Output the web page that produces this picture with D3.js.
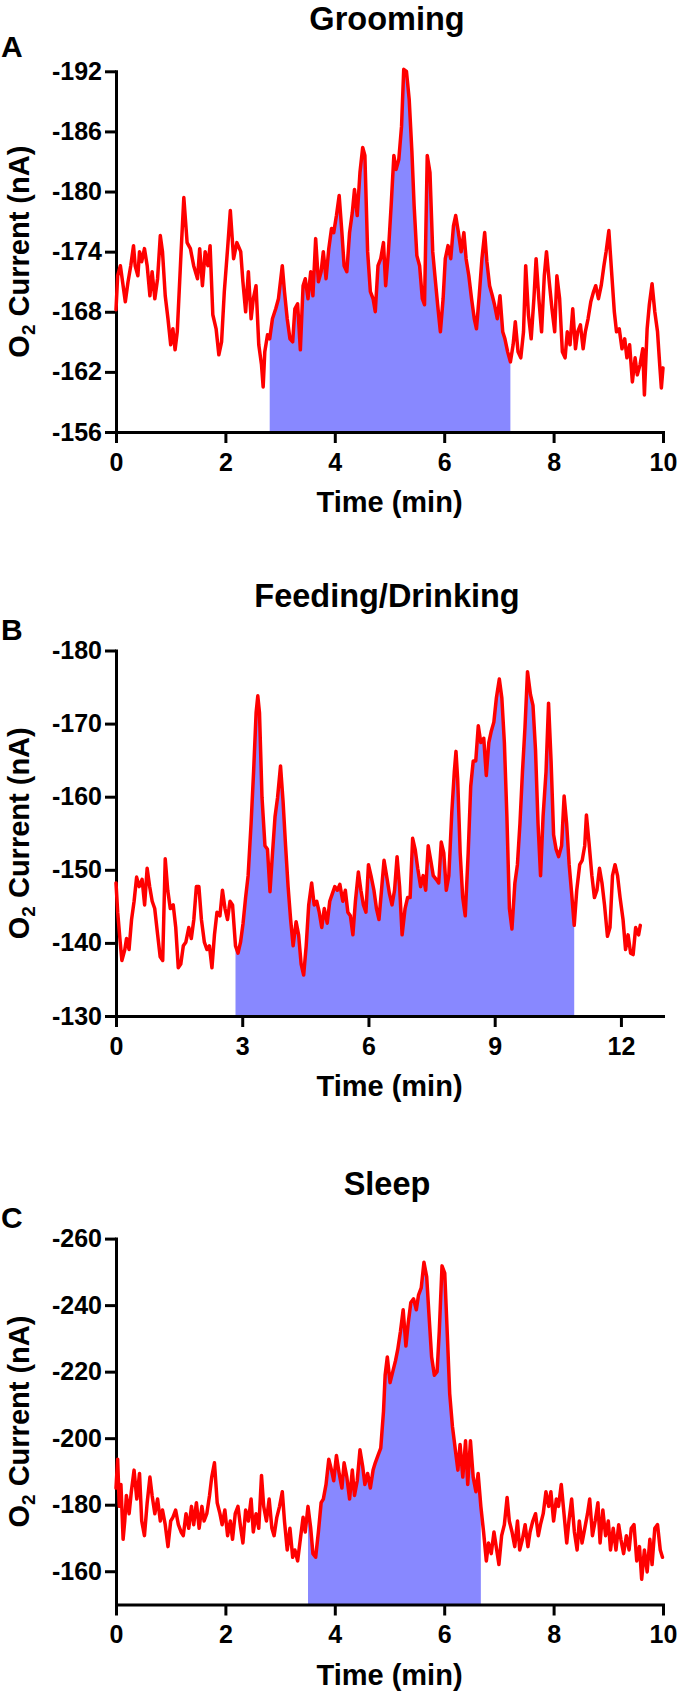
<!DOCTYPE html>
<html>
<head>
<meta charset="utf-8">
<script src="https://cdn.jsdelivr.net/npm/d3@7"></script>
<style>
  body { margin: 0; background: #ffffff; }
  svg { display: block; }
  text { font-family: "Liberation Sans", Arial, Helvetica, sans-serif; font-weight: bold; fill: #000; }
</style>
</head>
<body>
<svg id="chart" width="678" height="1692"></svg>
<script>
// ---------------- DATA ----------------
const titles = ["Grooming", "Feeding/Drinking", "Sleep"];
const letters = ["A", "B", "C"];
const xLabel = "Time (min)";

// Panel A: Grooming
const xTicksA = [0, 2, 4, 6, 8, 10];
const yTicksA = [-192, -186, -180, -174, -168, -162, -156];
const fillA = [2.8, 7.21];
const timeA = [0,0.03,0.08,0.13,0.17,0.22,0.27,0.32,0.35,0.40,0.43,0.47,0.52,0.57,0.62,0.66,0.71,0.76,0.81,0.85,0.90,0.95,1.00,1.04,1.08,1.12,1.19,1.24,1.30,1.36,1.42,1.49,1.53,1.58,1.63,1.68,1.72,1.77,1.83,1.88,1.93,1.98,2.04,2.09,2.15,2.21,2.28,2.32,2.37,2.42,2.47,2.51,2.56,2.61,2.66,2.69,2.72,2.77,2.81,2.86,2.92,2.97,3.04,3.08,3.13,3.18,3.23,3.27,3.32,3.37,3.42,3.46,3.51,3.56,3.60,3.65,3.70,3.75,3.79,3.84,3.89,3.94,3.98,4.03,4.08,4.13,4.17,4.22,4.27,4.32,4.36,4.41,4.46,4.51,4.55,4.60,4.65,4.70,4.74,4.79,4.84,4.89,4.93,4.98,5.03,5.08,5.12,5.17,5.22,5.26,5.31,5.36,5.41,5.45,5.50,5.55,5.60,5.64,5.69,5.74,5.79,5.83,5.88,5.93,5.98,6.02,6.07,6.12,6.17,6.21,6.26,6.31,6.36,6.40,6.45,6.50,6.55,6.59,6.64,6.69,6.74,6.78,6.83,6.88,6.92,6.97,7.02,7.07,7.11,7.16,7.21,7.26,7.30,7.35,7.40,7.45,7.49,7.54,7.59,7.64,7.68,7.73,7.78,7.83,7.87,7.92,7.97,8.02,8.06,8.11,8.16,8.21,8.25,8.30,8.35,8.40,8.44,8.49,8.54,8.58,8.63,8.68,8.73,8.77,8.82,8.87,8.92,8.96,9.01,9.06,9.11,9.15,9.20,9.25,9.30,9.34,9.39,9.44,9.49,9.53,9.58,9.63,9.66,9.71,9.75,9.80,9.85,9.90,9.94,9.97,10.0];
const valueA = [-168.2,-171.6,-172.6,-170.6,-169.0,-171.0,-172.6,-174.6,-172.6,-171.6,-174.0,-173.0,-174.3,-172.6,-169.6,-172.0,-169.3,-171.3,-175.6,-174.0,-169.6,-167.3,-164.7,-166.3,-164.2,-166.0,-174.0,-179.4,-174.9,-174.3,-172.6,-171.3,-174.3,-170.6,-174.0,-172.6,-174.6,-167.7,-166.3,-163.7,-165.0,-170.0,-174.3,-178.1,-173.3,-174.9,-174.0,-171.0,-168.0,-172.0,-167.3,-169.3,-170.6,-164.7,-162.7,-160.5,-164.0,-165.7,-165.3,-167.3,-168.3,-169.3,-172.6,-170.0,-167.3,-165.3,-165.0,-168.3,-168.8,-164.2,-170.6,-171.3,-169.3,-172.0,-169.6,-175.3,-171.0,-172.0,-174.0,-171.3,-174.3,-176.3,-175.9,-177.6,-179.6,-175.9,-172.6,-172.0,-175.9,-177.9,-180.2,-177.6,-181.9,-184.4,-183.6,-174.0,-170.0,-169.3,-168.0,-172.6,-173.3,-174.9,-170.6,-174.0,-178.6,-183.6,-182.2,-183.2,-186.5,-192.2,-192.0,-189.2,-183.9,-178.6,-173.6,-172.6,-169.3,-168.7,-183.6,-181.9,-174.0,-171.6,-168.7,-166.0,-169.3,-173.3,-174.6,-173.3,-176.6,-177.6,-175.9,-174.0,-175.9,-173.3,-171.6,-169.3,-167.3,-166.3,-169.6,-173.3,-175.9,-173.0,-170.6,-169.6,-168.7,-167.3,-169.6,-166.0,-165.3,-164.0,-163.0,-164.7,-167.0,-164.0,-163.4,-166.0,-172.6,-167.7,-165.3,-169.3,-173.3,-169.3,-166.0,-171.6,-174.0,-171.0,-168.3,-166.0,-171.6,-169.3,-164.0,-163.4,-166.0,-164.7,-168.3,-164.3,-166.0,-166.7,-164.3,-166.0,-167.3,-169.0,-170.0,-170.6,-169.3,-170.6,-172.6,-174.0,-176.1,-172.0,-168.0,-166.0,-166.3,-164.3,-165.3,-163.4,-164.7,-161.0,-163.4,-161.7,-162.7,-164.3,-159.7,-166.3,-168.7,-170.8,-168.0,-166.0,-162.7,-160.4,-162.4];

// Panel B: Feeding/Drinking
const xTicksB = [0, 3, 6, 9, 12];
const yTicksB = [-180, -170, -160, -150, -140, -130];
const fillB = [2.84, 10.89];
const timeB = [0,0.04,0.10,0.14,0.21,0.25,0.31,0.37,0.43,0.49,0.55,0.62,0.68,0.74,0.80,0.86,0.92,0.99,1.05,1.11,1.17,1.23,1.29,1.36,1.42,1.48,1.54,1.60,1.66,1.73,1.79,1.85,1.91,1.97,2.03,2.10,2.16,2.22,2.28,2.34,2.40,2.47,2.53,2.59,2.65,2.71,2.77,2.84,2.90,2.96,3.02,3.08,3.14,3.21,3.27,3.33,3.37,3.41,3.47,3.54,3.60,3.66,3.72,3.78,3.84,3.91,3.97,4.03,4.09,4.15,4.21,4.28,4.34,4.40,4.46,4.52,4.58,4.65,4.71,4.77,4.83,4.89,4.95,5.02,5.08,5.14,5.20,5.26,5.32,5.39,5.45,5.51,5.57,5.63,5.69,5.76,5.82,5.88,5.94,6.00,6.06,6.13,6.19,6.25,6.31,6.37,6.43,6.50,6.56,6.62,6.68,6.74,6.80,6.87,6.93,6.99,7.05,7.11,7.17,7.24,7.30,7.36,7.42,7.48,7.54,7.61,7.67,7.73,7.79,7.85,7.91,7.98,8.04,8.08,8.12,8.18,8.24,8.30,8.37,8.43,8.49,8.55,8.61,8.67,8.74,8.80,8.86,8.92,8.98,9.04,9.11,9.17,9.23,9.29,9.35,9.41,9.48,9.54,9.60,9.66,9.72,9.78,9.85,9.91,9.97,10.03,10.09,10.15,10.22,10.28,10.34,10.40,10.46,10.52,10.59,10.65,10.71,10.77,10.83,10.89,10.95,11.02,11.08,11.14,11.18,11.24,11.31,11.37,11.43,11.49,11.55,11.61,11.68,11.74,11.80,11.86,11.92,11.98,12.05,12.11,12.17,12.23,12.29,12.35,12.42,12.46];
const valueB = [-148.2,-144.2,-140.1,-137.6,-139.1,-140.6,-139.1,-143.2,-145.7,-149.0,-147.7,-148.7,-145.2,-150.2,-147.7,-145.7,-144.7,-141.1,-138.1,-137.6,-151.5,-147.2,-144.7,-145.2,-142.1,-136.6,-137.1,-139.6,-140.1,-142.1,-140.6,-143.2,-147.7,-147.7,-143.2,-140.1,-139.1,-139.6,-136.6,-141.1,-144.2,-143.7,-147.2,-144.7,-143.2,-145.7,-145.2,-139.6,-138.6,-140.1,-142.7,-146.2,-149.2,-156.3,-163.4,-171.5,-173.8,-171.5,-159.9,-153.3,-152.8,-147.0,-152.3,-157.3,-159.9,-164.2,-159.4,-153.3,-147.7,-143.2,-139.6,-142.9,-141.1,-137.1,-135.6,-139.6,-145.2,-148.2,-145.2,-145.7,-144.2,-142.1,-144.7,-142.7,-145.7,-146.7,-147.7,-147.2,-148.0,-145.7,-147.2,-144.2,-143.7,-141.1,-145.7,-149.7,-147.2,-145.2,-144.2,-150.7,-149.2,-147.2,-144.7,-143.2,-147.2,-151.3,-149.2,-146.7,-145.2,-147.2,-151.8,-147.7,-141.1,-144.7,-146.2,-146.2,-154.3,-152.8,-150.2,-147.7,-149.2,-147.2,-153.3,-151.3,-149.2,-148.7,-148.2,-153.8,-152.3,-147.2,-149.2,-157.8,-163.4,-166.2,-162.4,-152.3,-146.2,-143.7,-152.3,-161.4,-164.9,-164.9,-169.7,-167.4,-168.0,-162.9,-167.4,-169.0,-170.2,-173.5,-176.1,-173.5,-167.4,-157.3,-144.7,-141.9,-148.2,-150.7,-156.3,-163.4,-169.5,-177.1,-174.0,-172.5,-166.4,-156.3,-149.2,-157.3,-163.4,-172.8,-164.9,-154.8,-152.8,-151.8,-153.3,-160.1,-156.3,-150.7,-146.7,-142.4,-147.2,-150.7,-151.3,-153.3,-157.5,-153.8,-149.2,-146.2,-147.2,-150.2,-148.2,-145.2,-140.9,-142.1,-149.2,-150.7,-149.2,-146.2,-143.2,-139.1,-141.1,-138.6,-138.4,-142.1,-141.1,-142.4];

// Panel C: Sleep
const xTicksC = [0, 2, 4, 6, 8, 10];
const yTicksC = [-260, -240, -220, -200, -180, -160];
const fillC = [3.51, 6.67];
const timeC = [0,0.03,0.06,0.09,0.13,0.16,0.19,0.24,0.28,0.33,0.38,0.43,0.47,0.52,0.57,0.62,0.66,0.71,0.76,0.81,0.85,0.90,0.95,1.00,1.04,1.09,1.14,1.19,1.23,1.28,1.33,1.38,1.42,1.47,1.52,1.57,1.61,1.66,1.71,1.75,1.80,1.85,1.90,1.94,1.99,2.04,2.09,2.13,2.18,2.23,2.28,2.32,2.37,2.42,2.47,2.51,2.56,2.61,2.66,2.70,2.75,2.80,2.85,2.89,2.94,2.99,3.04,3.08,3.13,3.18,3.23,3.27,3.32,3.37,3.42,3.46,3.51,3.56,3.60,3.65,3.70,3.75,3.79,3.84,3.89,3.94,3.98,4.03,4.08,4.13,4.17,4.22,4.27,4.32,4.36,4.41,4.46,4.51,4.55,4.60,4.65,4.70,4.74,4.79,4.84,4.89,4.92,4.96,5.01,5.06,5.11,5.15,5.20,5.25,5.30,5.34,5.39,5.44,5.49,5.53,5.58,5.63,5.68,5.72,5.77,5.82,5.87,5.91,5.96,6.01,6.06,6.10,6.15,6.20,6.25,6.29,6.34,6.39,6.43,6.48,6.53,6.58,6.62,6.67,6.72,6.77,6.81,6.86,6.91,6.96,7.00,7.05,7.10,7.15,7.19,7.24,7.29,7.34,7.38,7.43,7.48,7.53,7.57,7.62,7.67,7.72,7.76,7.81,7.86,7.91,7.95,8.00,8.05,8.09,8.14,8.19,8.24,8.28,8.33,8.38,8.43,8.47,8.52,8.57,8.62,8.66,8.71,8.76,8.81,8.85,8.90,8.95,9.00,9.04,9.09,9.14,9.19,9.23,9.28,9.33,9.38,9.42,9.47,9.52,9.57,9.61,9.66,9.71,9.76,9.80,9.85,9.90,9.95,9.99];
const valueC = [-185.0,-193.7,-179.5,-186.1,-169.6,-175.1,-182.8,-177.3,-183.9,-190.4,-181.7,-189.4,-175.1,-170.7,-180.6,-188.3,-182.8,-177.3,-181.7,-175.1,-178.4,-174.0,-167.4,-175.1,-176.2,-178.4,-174.0,-171.8,-170.7,-177.3,-172.9,-179.5,-174.0,-180.6,-172.9,-179.5,-175.1,-177.3,-182.8,-188.3,-192.6,-180.6,-177.3,-174.0,-178.4,-170.7,-175.1,-169.6,-177.3,-179.5,-172.9,-168.5,-178.4,-175.1,-181.7,-171.8,-177.3,-172.9,-188.8,-179.5,-175.1,-181.7,-172.9,-170.7,-176.2,-179.5,-183.9,-175.1,-166.4,-172.9,-164.2,-166.4,-163.1,-169.6,-176.2,-171.8,-179.5,-172.9,-165.3,-164.2,-171.8,-180.6,-181.7,-186.1,-193.7,-190.4,-187.2,-194.8,-189.4,-185.0,-192.6,-188.3,-181.7,-190.4,-182.8,-187.2,-196.5,-191.5,-186.1,-189.4,-185.0,-190.4,-192.6,-194.8,-197.0,-208.0,-218.9,-224.4,-216.7,-220.0,-223.3,-226.6,-232.1,-238.6,-227.7,-234.3,-240.8,-241.9,-238.6,-243.0,-245.2,-252.9,-248.5,-237.5,-224.4,-218.9,-220.0,-232.1,-251.8,-249.6,-229.9,-213.5,-203.6,-197.0,-190.4,-198.1,-188.3,-199.2,-186.1,-199.2,-188.3,-183.9,-189.4,-179.5,-171.8,-163.1,-168.5,-165.3,-171.8,-166.4,-162.0,-170.7,-174.0,-182.2,-175.1,-171.8,-167.4,-175.1,-166.4,-169.6,-174.0,-167.4,-171.8,-175.1,-177.3,-170.7,-174.0,-177.3,-183.9,-179.5,-183.9,-175.1,-181.7,-179.5,-186.1,-177.3,-168.5,-175.1,-181.7,-171.8,-166.4,-175.1,-168.5,-172.9,-177.3,-181.7,-170.7,-175.1,-180.6,-168.5,-178.4,-170.7,-175.1,-166.4,-172.9,-166.4,-174.0,-169.6,-165.3,-170.7,-166.4,-172.9,-174.0,-163.1,-167.4,-157.6,-166.4,-159.8,-169.6,-162.0,-172.9,-174.0,-166.4,-164.2];

// ---------------- LAYOUT ----------------
const svg = d3.select("#chart");
const plotLeft = 116, plotRight = 663;
const lineColor = "#ff0000";
const fillColor = "#8888ff";

const panels = [
  { title: titles[0], letter: letters[0], time: timeA, value: valueA, xDomain: [0, 10], xTicks: xTicksA,
    yDomain: [-156, -192], yTicks: yTicksA, fill: fillA, top: 71.3, bottom: 432, letterY: 57, titleY: 29.5 },
  { title: titles[1], letter: letters[1], time: timeB, value: valueB, xDomain: [0, 13], xTicks: xTicksB,
    yDomain: [-130, -180], yTicks: yTicksB, fill: fillB, top: 650.5, bottom: 1016, letterY: 640, titleY: 607 },
  { title: titles[2], letter: letters[2], time: timeC, value: valueC, xDomain: [0, 10], xTicks: xTicksC,
    yDomain: [-150, -260], yTicks: yTicksC, fill: fillC, top: 1238.6, bottom: 1604.5, letterY: 1228, titleY: 1195 }
];

panels.forEach(p => {
  const x = d3.scaleLinear().domain(p.xDomain).range([plotLeft, plotRight]);
  const y = d3.scaleLinear().domain(p.yDomain).range([p.bottom, p.top]);
  const n = Math.min(p.time.length, p.value.length);
  const pts = d3.range(n).map(i => ({ t: p.time[i], v: p.value[i] }));
  const fillPts = pts.filter(d => d.t >= p.fill[0] && d.t <= p.fill[1]);

  const g = svg.append("g");

  // filled region
  const area = d3.area()
    .x(d => x(d.t))
    .y0(y(p.yDomain[0]))
    .y1(d => y(d.v));
  g.append("path").datum(fillPts)
    .attr("d", area)
    .attr("fill", fillColor)
    .attr("stroke", "none");

  // axes
  const yAxis = d3.axisLeft(y).tickValues(p.yTicks).tickSize(11).tickPadding(3).tickSizeOuter(0);
  const xAxis = d3.axisBottom(x).tickValues(p.xTicks).tickSize(11).tickPadding(10).tickSizeOuter(0);

  const ya = g.append("g").attr("transform", `translate(${plotLeft},0)`).call(yAxis);
  const xa = g.append("g").attr("transform", `translate(0,${p.bottom})`).call(xAxis);
  [ya, xa].forEach(a => {
    a.select(".domain").attr("stroke", "#000").attr("stroke-width", 3).attr("stroke-linecap", "square");
    a.selectAll(".tick line").attr("stroke", "#000").attr("stroke-width", 3);
    a.selectAll(".tick text")
      .attr("font-family", '"Liberation Sans", Arial, sans-serif')
      .attr("font-weight", "bold")
      .attr("font-size", 25)
      .attr("fill", "#000")
      .text(d => String(d));
  });

  // line
  const line = d3.line().x(d => x(d.t)).y(d => y(d.v));
  g.append("path").datum(pts)
    .attr("d", line)
    .attr("fill", "none")
    .attr("stroke", lineColor)
    .attr("stroke-width", 3.5)
    .attr("stroke-linejoin", "round")
    .attr("stroke-linecap", "round");

  // title
  g.append("text")
    .attr("x", 387).attr("y", p.titleY)
    .attr("text-anchor", "middle")
    .attr("font-size", 32.5)
    .text(p.title);

  // panel letter
  g.append("text")
    .attr("x", 1).attr("y", p.letterY)
    .attr("font-size", 30)
    .text(p.letter);

  // x label
  g.append("text")
    .attr("x", (plotLeft + plotRight) / 2).attr("y", p.bottom + 80)
    .attr("text-anchor", "middle")
    .attr("font-size", 29)
    .text(xLabel);

  // y label with subscript
  const yl = g.append("text")
    .attr("transform", `translate(29,${(p.top + p.bottom) / 2}) rotate(-90)`)
    .attr("text-anchor", "middle")
    .attr("font-size", 29);
  yl.append("tspan").text("O");
  yl.append("tspan").attr("font-size", 19).attr("dy", 6).text("2");
  yl.append("tspan").attr("dy", -6).text(" Current (nA)");
});
</script>
</body>
</html>
